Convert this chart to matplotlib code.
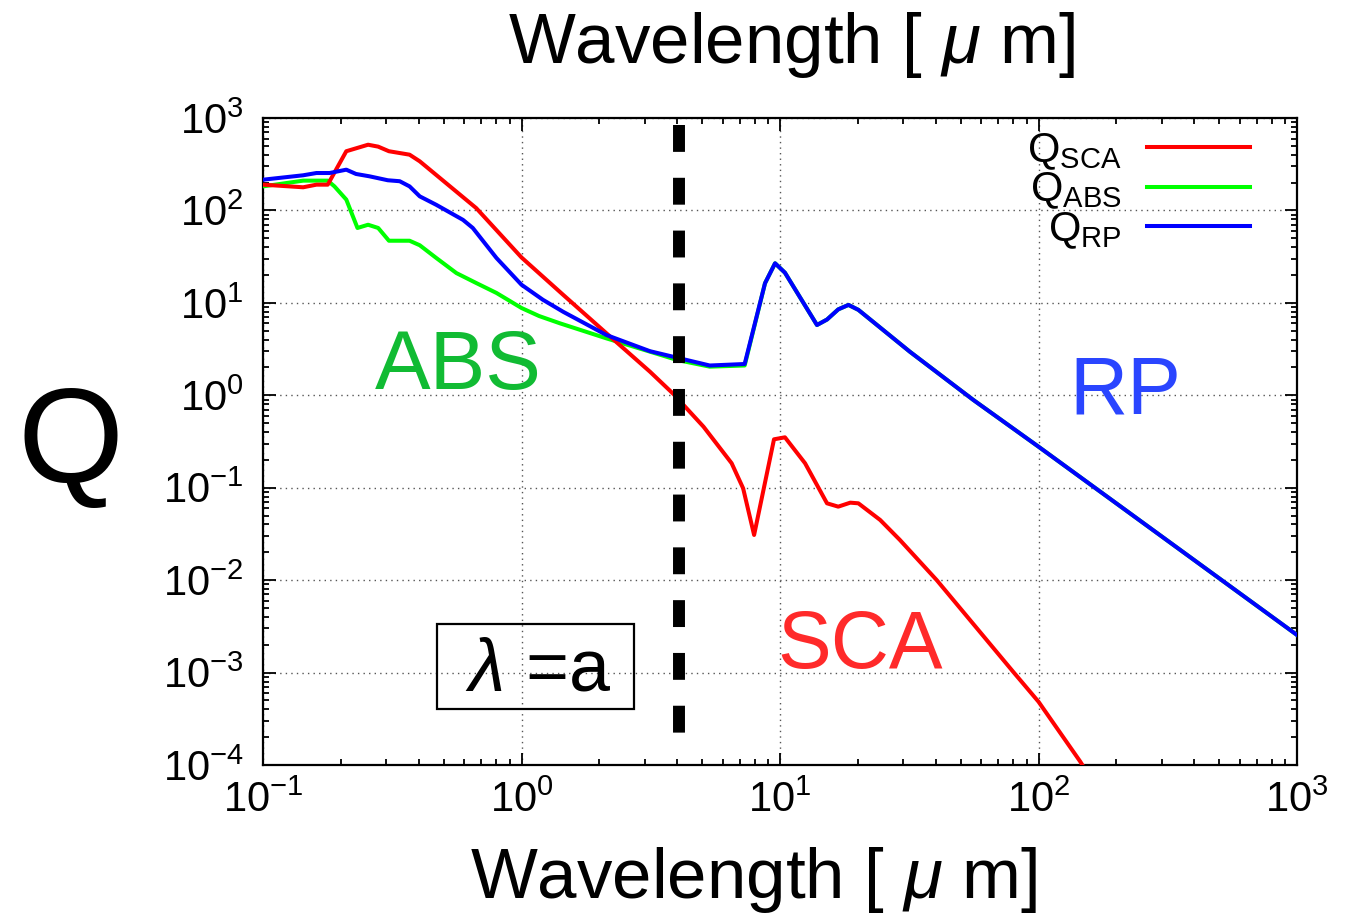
import matplotlib

matplotlib.use("Agg")

import matplotlib.pyplot as plt  # noqa: E402
from matplotlib.ticker import LogLocator, NullFormatter  # noqa: E402

plt.rcParams["font.family"] = ["Liberation Sans", "DejaVu Sans"]
plt.rcParams["mathtext.fontset"] = "custom"
plt.rcParams["mathtext.rm"] = "Liberation Sans"
plt.rcParams["mathtext.it"] = "Liberation Sans:italic"
plt.rcParams["mathtext.default"] = "regular"
plt.rcParams["axes.unicode_minus"] = False

# Efficiency factors (wavelength in micron)
wl_sca = [0.1, 0.143, 0.161, 0.178, 0.21, 0.255, 0.279, 0.307, 0.369, 0.404,
          0.668, 1.0, 1.45, 2.13, 3.14, 3.86, 5.06, 6.5, 7.2, 7.94, 9.48,
          10.45, 12.5, 15.2, 16.8, 18.7, 20.1, 24.4, 29.1, 40.4, 79.8, 100,
          145, 160]
q_sca = [190, 178, 190, 190, 437, 514, 490, 437, 401, 340,
         106, 31, 12.2, 4.69, 1.8, 1.04, 0.457, 0.184, 0.0986, 0.0308, 0.334,
         0.351, 0.184, 0.0678, 0.0624, 0.0689, 0.0678, 0.0448, 0.0272, 0.01,
         0.00102, 4.84e-4, 1.09e-4, 7.0e-5]

wl_abs = [0.1, 0.143, 0.178, 0.189, 0.21, 0.232, 0.255, 0.279, 0.307, 0.369,
          0.404, 0.468, 0.56, 0.668, 0.8, 1.0, 1.17, 1.41, 2.13, 4.0, 5.35,
          7.3, 8.75, 9.57, 10.45, 13.9, 15.2, 16.8, 18.4, 20.1, 31.8, 56,
          100, 1000]
q_abs = [182, 210, 210, 182, 131, 64.6, 70, 64.6, 47, 47,
         42, 30.6, 21, 16.4, 12.8, 8.8, 7.2, 6.0, 4.13, 2.41, 2.04,
         2.1, 16.3, 26.8, 21.2, 5.76, 6.6, 8.5, 9.5, 8.4, 2.96, 0.889,
         0.278, 0.00255]

wl_rp = [0.1, 0.143, 0.161, 0.181, 0.21, 0.229, 0.258, 0.304, 0.338, 0.369,
         0.404, 0.468, 0.594, 0.648, 0.8, 1.0, 1.21, 1.45, 2.13, 3.14, 4.0,
         5.35, 7.3, 8.75, 9.57, 10.45, 13.9, 15.2, 16.8, 18.4, 20.1, 31.8,
         56, 100, 1000]
q_rp = [215, 240, 254, 254, 276, 248, 234, 212, 207, 182,
        142, 115, 79, 64.6, 30.6, 15.7, 10.8, 8.0, 4.49, 3.0, 2.55,
        2.1, 2.18, 16.3, 26.8, 21.2, 5.76, 6.6, 8.5, 9.5, 8.4, 2.96,
        0.889, 0.278, 0.00255]

grain_size = 4.06  # lambda = a

UNIT_LABEL = r"Wavelength [ $\mathit{\mu}$ m]"

fig = plt.figure(figsize=(13.48, 9.15), dpi=100, facecolor="white")
ax = fig.add_axes([263 / 1348, 1 - 765 / 915, 1034 / 1348, 647 / 915])

ax.plot(wl_abs, q_abs, color="#00ff00", lw=2.9, label=r"$Q_{ABS}$", zorder=3)
ax.plot(wl_sca, q_sca, color="#ff0000", lw=2.9, label=r"$Q_{SCA}$", zorder=4)
ax.plot(wl_rp, q_rp, color="#0000ff", lw=2.9, label=r"$Q_{RP}$", zorder=5)

ax.plot([grain_size, grain_size], [0.989, 0.0386], color="black", lw=8.6,
        dashes=(2.25, 2.17), solid_capstyle="butt", dash_capstyle="butt",
        transform=ax.get_xaxis_transform(), zorder=6)

ax.set_xscale("log")
ax.set_yscale("log")
ax.set_xlim(0.1, 1000)
ax.set_ylim(1e-4, 1e3)

ax.xaxis.set_major_locator(LogLocator(base=10, numticks=10))
ax.xaxis.set_minor_locator(LogLocator(base=10, subs=range(2, 10), numticks=20))
ax.yaxis.set_major_locator(LogLocator(base=10, numticks=10))
ax.yaxis.set_minor_locator(LogLocator(base=10, subs=range(2, 10), numticks=20))
ax.xaxis.set_minor_formatter(NullFormatter())
ax.yaxis.set_minor_formatter(NullFormatter())

ax.tick_params(which="both", direction="in", top=True, right=True,
               colors="black", width=1.3)
ax.tick_params(which="major", length=9, labelsize=30)
ax.tick_params(which="minor", length=4.5)
ax.tick_params(axis="x", which="major", pad=11)
ax.tick_params(axis="y", which="major", pad=14)
for spine in ax.spines.values():
    spine.set_linewidth(1.6)

ax.grid(which="major", color="#555555", linestyle=(0, (1, 3)), linewidth=1.0)

handles, labels = ax.get_legend_handles_labels()
order = [1, 0, 2]
ax.legend([handles[i] for i in order], [labels[i] for i in order],
          loc="upper right", bbox_to_anchor=(0.9545, 0.98),
          frameon=False, markerfirst=False,
          fontsize=30, handlelength=2.47, handletextpad=0.6,
          labelspacing=-0.03, borderaxespad=0.0, borderpad=0.0)

fig.text(375 / 1348, 1 - 367 / 915, "ABS", color="#11bb33", fontsize=60,
         ha="left", va="center")
fig.text(1069 / 1348, 1 - 393 / 915, "RP", color="#2a45ff", fontsize=58,
         ha="left", va="center")
fig.text(777 / 1348, 1 - 647 / 915, "SCA", color="#ff2a2a", fontsize=58,
         ha="left", va="center")
fig.text(70 / 1348, 1 - 447 / 915, "Q", color="black", fontsize=98,
         ha="center", va="center")

ax.text(0.2655, 0.145, r"$\mathit{\lambda}$ =a", fontsize=53, ha="center",
        va="center", transform=ax.transAxes, zorder=7)
ax.add_patch(plt.Rectangle((0.1686, 0.0866), 0.1902, 0.1314,
                           transform=ax.transAxes, fill=False,
                           edgecolor="black", lw=1.6, zorder=7))

fig.text(792 / 1348, 1 - 45 / 915, UNIT_LABEL, fontsize=51, ha="center",
         va="center")
fig.text(754 / 1348, 1 - 880 / 915, UNIT_LABEL, fontsize=51, ha="center",
         va="center")

fig.savefig("out.png", dpi=100, facecolor="white")
